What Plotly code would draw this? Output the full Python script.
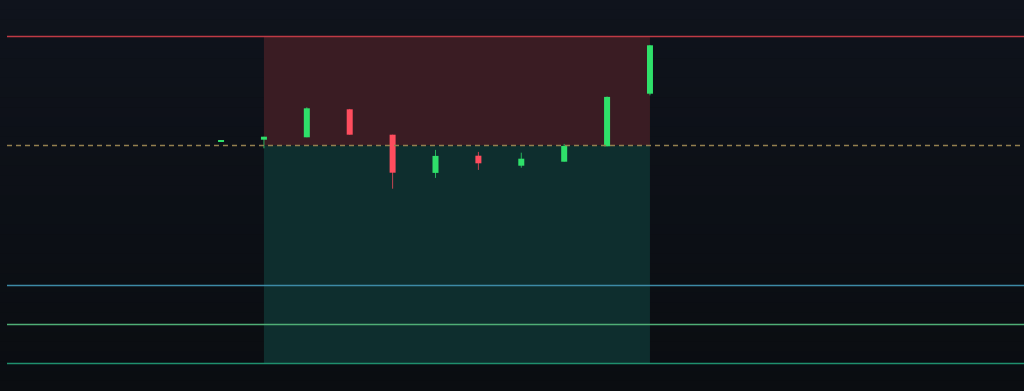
import plotly.graph_objects as go
import pandas as pd

# ---- data ----
times = pd.date_range("2024-03-11 09:00", periods=11, freq="h")
opens  = [100.20, 100.29, 100.41, 101.81, 100.54, 98.63, 99.49, 98.99, 99.19, 99.96, 102.59]
highs  = [100.25, 100.44, 101.91, 101.83, 100.54, 99.78, 99.68, 99.64, 100.08, 102.45, 105.03]
lows   = [100.20,  99.86, 100.41, 100.54,  97.84, 98.38, 98.78, 98.89, 99.19, 99.96, 102.51]
closes = [100.25, 100.44, 101.86, 100.54,  98.64, 99.48, 99.11, 99.34, 99.98, 102.43, 105.01]

entry_price = 100.00
stop_price = 105.45
tp_levels = [93.00, 91.05, 89.10]
tp_colors = ["#3d8aa6", "#4fae76", "#1f8f6e"]
zone_start, zone_end = times[1], times[10]

UP, DOWN = "#2fe06a", "#ff4d5e"
hour = pd.Timedelta(hours=1)
x_range = [times[0] - 4.99 * hour, times[0] + 18.72 * hour]
y_range = [87.725, 107.275]

fig = go.Figure()

# background gradient (bands)
n = 40
top, bot = (15, 19, 28), (10, 13, 17)
shapes = []
for i in range(n):
    t = i / (n - 1)
    c = tuple(round(top[k] + (bot[k] - top[k]) * t) for k in range(3))
    shapes.append(dict(type="rect", xref="paper", yref="paper", x0=-0.01, x1=1.01,
                       y0=1 - (i + 1) / n, y1=1 - i / n + 0.001, line_width=0,
                       fillcolor="rgb(%d,%d,%d)" % c, layer="below"))
# risk / reward zones
shapes.append(dict(type="rect", x0=zone_start, x1=zone_end, y0=entry_price, y1=stop_price,
                   fillcolor="#3a1c23", line_width=0, layer="below"))
shapes.append(dict(type="rect", x0=zone_start, x1=zone_end, y0=tp_levels[-1], y1=entry_price,
                   fillcolor="#0e2e2e", line_width=0, layer="below"))
# levels
shapes.append(dict(type="line", xref="paper", x0=0, x1=1, y0=stop_price, y1=stop_price,
                   line=dict(color="#bf3a45", width=1.6)))
shapes.append(dict(type="line", xref="paper", x0=0, x1=1, y0=entry_price, y1=entry_price,
                   line=dict(color="#94804f", width=1.6, dash="5px,4px")))
for lv, col in zip(tp_levels, tp_colors):
    shapes.append(dict(type="line", xref="paper", x0=0, x1=1, y0=lv, y1=lv,
                       line=dict(color=col, width=1.6)))

# wicks
for up in (True, False):
    xs, ys = [], []
    for t, o, h, l, c in zip(times, opens, highs, lows, closes):
        if (c >= o) == up:
            xs += [t, t, None]
            ys += [l, h, None]
    fig.add_trace(go.Scatter(x=xs, y=ys, mode="lines", hoverinfo="skip",
                             line=dict(color=UP if up else DOWN, width=1), opacity=0.75))

# bodies
for up in (True, False):
    idx = [i for i in range(len(times)) if (closes[i] >= opens[i]) == up]
    fig.add_trace(go.Bar(
        x=[times[i] for i in idx],
        base=[min(opens[i], closes[i]) for i in idx],
        y=[max(abs(closes[i] - opens[i]), 0.05) for i in idx],
        width=0.14 * 3600 * 1000,
        marker=dict(color=UP if up else DOWN, line_width=0),
    ))

fig.update_layout(
    width=1024, height=391,
    margin=dict(l=7, r=0, t=0, b=0),
    paper_bgcolor="#0d1117", plot_bgcolor="rgba(0,0,0,0)",
    showlegend=False, shapes=shapes, barmode="overlay",
    xaxis=dict(range=x_range, visible=False, showgrid=False, zeroline=False),
    yaxis=dict(range=y_range, visible=False, showgrid=False, zeroline=False),
)
fig.write_html("out.html")
